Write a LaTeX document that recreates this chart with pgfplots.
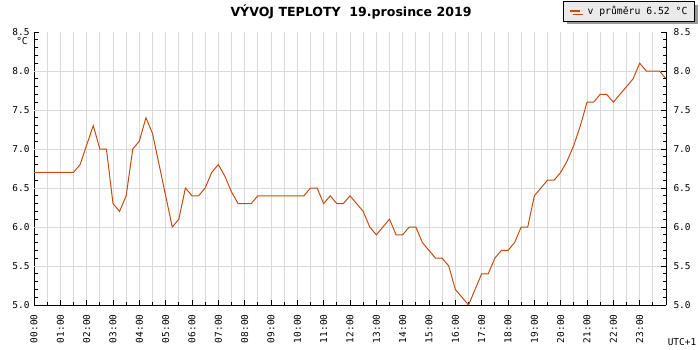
\documentclass[border=0pt]{standalone}
\usepackage{fontspec}
\setmainfont{DejaVu Sans}
\setmonofont{DejaVu Sans Mono}
\usepackage{pgfplots}
\pgfplotsset{compat=1.18}
\usetikzlibrary{shadows}
\definecolor{lineC}{RGB}{196,76,18}
\definecolor{gridC}{RGB}{218,218,218}
\definecolor{legfill}{RGB}{234,234,234}
\pgfplotstableread{
h v
0 6.7
0.25 6.7
0.5 6.7
0.75 6.7
1 6.7
1.25 6.7
1.5 6.7
1.75 6.8
2 7.05
2.25 7.3
2.5 7.0
2.75 7.0
3 6.3
3.25 6.2
3.5 6.4
3.75 7.0
4 7.1
4.25 7.4
4.5 7.2
4.75 6.8
5 6.4
5.25 6.0
5.5 6.1
5.75 6.5
6 6.4
6.25 6.4
6.5 6.5
6.75 6.7
7 6.8
7.25 6.65
7.5 6.45
7.75 6.3
8 6.3
8.25 6.3
8.5 6.4
8.75 6.4
9 6.4
9.25 6.4
9.5 6.4
9.75 6.4
10 6.4
10.25 6.4
10.5 6.5
10.75 6.5
11 6.3
11.25 6.4
11.5 6.3
11.75 6.3
12 6.4
12.25 6.3
12.5 6.2
12.75 6.0
13 5.9
13.25 6.0
13.5 6.1
13.75 5.9
14 5.9
14.25 6.0
14.5 6.0
14.75 5.8
15 5.7
15.25 5.6
15.5 5.6
15.75 5.5
16 5.2
16.25 5.1
16.5 5.0
16.75 5.2
17 5.4
17.25 5.4
17.5 5.6
17.75 5.7
18 5.7
18.25 5.8
18.5 6.0
18.75 6.0
19 6.4
19.25 6.5
19.5 6.6
19.75 6.6
20 6.7
20.25 6.85
20.5 7.05
20.75 7.3
21 7.6
21.25 7.6
21.5 7.7
21.75 7.7
22 7.6
22.25 7.7
22.5 7.8
22.75 7.9
23 8.1
23.25 8.0
23.5 8.0
23.75 8.0
24 7.9
}\tempdata
\begin{document}
\begin{tikzpicture}
\path[use as bounding box] (-34bp,-45bp) rectangle (666bp,305bp);
\pgfplotsset{
  every axis/.append style={
    scale only axis, width=632bp, height=273bp,
    xmin=0, xmax=24, ymin=5, ymax=8.5,
    tick align=inside,
    major tick length=5bp, minor tick length=3.5bp,
    tick style={black, line width=1bp},
    axis line style={black, line width=1bp},
    ytick={5,5.5,6,6.5,7,7.5,8,8.5},
    yticklabels={5.0,5.5,6.0,6.5,7.0,7.5,8.0,8.5},
    minor y tick num=4,
    tick label style={font=\fontsize{9.5}{10}\selectfont\ttfamily},
  }
}
\begin{axis}[
  at={(0,0)}, anchor=south west,
  axis x line*=bottom, axis y line*=left,
  xtick={0,1,...,23},
  xticklabels={00:00,01:00,02:00,03:00,04:00,05:00,06:00,07:00,08:00,09:00,10:00,11:00,12:00,13:00,14:00,15:00,16:00,17:00,18:00,19:00,20:00,21:00,22:00,23:00},
  minor xtick={0.5,1.5,...,23.5},
  xmajorgrids, xminorgrids,
  grid style={gridC, line width=1bp},
  x tick label style={rotate=90, anchor=east},
  xticklabel shift=6bp,
  yticklabel shift=1bp,
  extra y ticks={5.5,6,6.5,7,7.5,8},
  extra y tick labels={},
  extra y tick style={grid=major, major tick length=0bp},
  legend style={at={(1,1)}, anchor=north east, xshift=29bp, yshift=31bp,
    draw=black, line width=1bp, fill=legfill,
    drop shadow={shadow xshift=3bp, shadow yshift=-3bp, fill=gray!80, opacity=1},
    font=\fontsize{9.8}{10}\selectfont\ttfamily,
    inner xsep=5bp, inner ysep=3bp,
    /tikz/every odd column/.append style={column sep=5bp}},
  legend image code/.code={\draw[lineC, line width=2bp] (0bp,0bp) -- (10bp,0bp);},
]
\addplot[color=lineC, line width=1bp, mark=none] table[x=h, y=v] {\tempdata};
\addlegendentry{v průměru 6.52 °C}
\end{axis}
\begin{axis}[
  at={(0,0)}, anchor=south west,
  axis x line=none, axis y line*=right,
  ytick pos=right, yticklabel pos=right,
  yticklabel shift=4bp,
]
\end{axis}
\node[font=\bfseries\fontsize{12.6}{14}\selectfont] at (317bp,293bp) {VÝVOJ TEPLOTY\ \ 19.prosince 2019};
\node[font=\fontsize{9.5}{10}\selectfont\ttfamily] at (-12bp,264bp) {°C};
\node[font=\fontsize{9.5}{10}\selectfont\ttfamily] at (648bp,-37bp) {UTC+1};
\end{tikzpicture}
\end{document}
